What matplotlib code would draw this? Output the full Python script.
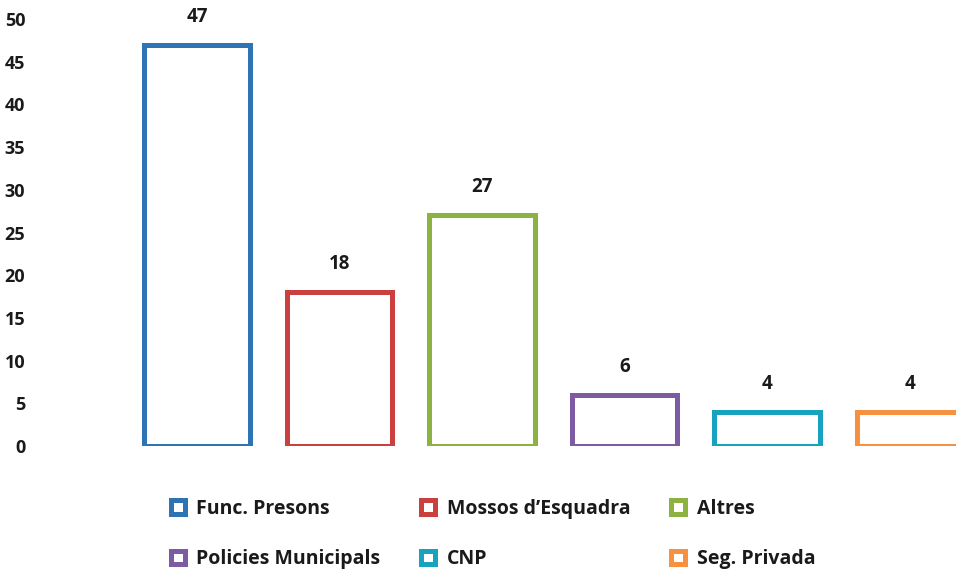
import matplotlib
matplotlib.use("Agg")
import matplotlib.pyplot as plt
from matplotlib.patches import Rectangle

categories = ["Func. Presons", "Mossos d\u2019Esquadra", "Altres",
              "Policies Municipals", "CNP", "Seg. Privada"]
values = [47, 18, 27, 6, 4, 4]
colors = ["#2e74b5", "#c9403f", "#8cb342", "#7c5ba3", "#17a3bf", "#f7903f"]
yticks = [0, 5, 10, 15, 20, 25, 30, 35, 40, 45, 50]

plt.rcParams['font.family'] = ['Open Sans', 'DejaVu Sans']

fig = plt.figure(figsize=(9.56, 5.74), dpi=100)
ax = fig.add_axes([60/956, 128/574, (956-60)/956, (446-19)/574])

x = list(range(len(values)))
bars = ax.bar(x, values, width=0.74, facecolor="white", edgecolor=colors,
              linewidth=3.6)
for xi, v in zip(x, values):
    ax.text(xi, v + 2.1, str(v), ha="center", va="bottom",
            fontsize=13.5, fontweight="bold", color="#1a1a1a")

ax.set_xlim(-0.961, 5.326)
ax.set_ylim(0, 50)
ax.set_yticks(yticks)
ax.set_yticklabels([str(t) for t in yticks], fontsize=13, fontweight="bold",
                   color="#1a1a1a")
ax.tick_params(axis="y", length=0, pad=25)
ax.set_xticks([])
for s in ax.spines.values():
    s.set_visible(False)

handles = [Rectangle((0, 0), 1, 1, facecolor="white", edgecolor=c, linewidth=3.6)
           for c in colors]
order = [0, 3, 1, 4, 2, 5]
leg = fig.legend([handles[i] for i in order], [categories[i] for i in order],
                 ncol=3, loc="center left", bbox_to_anchor=(153/956, 1 - 534/574),
                 frameon=False, handlelength=0.72, handleheight=0.72,
                 handletextpad=0.6, columnspacing=2.1, labelspacing=1.58,
                 prop={"size": 14, "weight": "bold"})
for t in leg.get_texts():
    t.set_color("#1a1a1a")

fig.savefig("out.png", dpi=100)
